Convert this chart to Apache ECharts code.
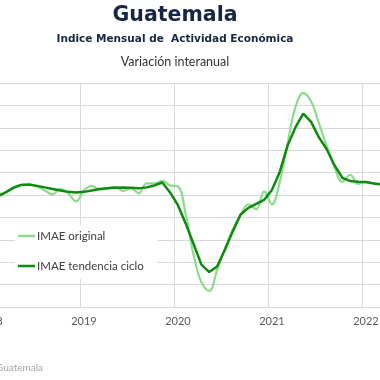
<!DOCTYPE html>
<html>
<head>
<meta charset="utf-8">
<script src="https://cdn.jsdelivr.net/npm/echarts@6/dist/echarts.min.js"></script>
<style>
html,body{margin:0;padding:0;overflow:hidden;background:#fff;width:380px;height:380px;}
#chart{position:absolute;left:-60px;top:0;width:480px;height:380px;}
</style>
</head>
<body>
<div id="chart"></div>
<script>
// Months Jan 2018 .. Mar 2022
var months = [];
(function(){ for (var y = 2018; y <= 2022; y++) for (var m = 1; m <= 12; m++) { if (months.length < 51) months.push(y + '-' + (m < 10 ? '0' + m : m)); } })();

var imaeOriginal = [
  2.0, 2.46, 2.79, 3.35, 3.63, 3.63, 3.46, 3.01, 2.57, 3.18, 2.68, 1.79,
  3.01, 3.52, 3.12, 3.24, 3.40, 2.96, 3.24, 2.68, 3.79, 3.79, 4.07, 3.57,
  3.46, 0.33, -4.2, -7.25, -8.2, -5.87, -3.5, -1.34, 0.22, 1.45, 0.89, 2.9,
  1.45, 3.97, 8.26, 12.3, 13.9, 12.95, 10.5, 7.95, 5.58, 3.96, 4.74, 3.74,
  3.94, 3.79, 3.68
];
var imaeTendencia = [
  2.1, 2.34, 2.79, 3.29, 3.63, 3.68, 3.52, 3.35, 3.18, 3.01, 2.85, 2.79,
  2.85, 3.01, 3.18, 3.26, 3.31, 3.35, 3.31, 3.24, 3.35, 3.57, 3.9, 2.79,
  1.36, -0.70, -2.97, -5.27, -6.10, -5.47, -3.62, -1.56, 0.33, 1.06, 1.51, 1.95,
  3.06, 5.08, 8.01, 10.04, 11.58, 10.66, 8.93, 7.6, 5.8, 4.41, 4.05, 3.98,
  3.94, 3.79, 3.68
];
var seriesNames = ['IMAE original', 'IMAE tendencia ciclo'];
var titleText = 'Guatemala';
var subtitleText = 'Indice Mensual de  Actividad Económica';
var subtitle2Text = 'Variación interanual';
var sourceText = 'Fuente: Banco de Guatemala';

var FONT = 'Lato, "Open Sans", sans-serif';
var TFONT = '"DejaVu Sans", sans-serif';
var gridColors = ['#d9d9d9','#d9d9d9','#d9d9d9','#d9d9d9','#a6a6a6','#d9d9d9','#d9d9d9','#d9d9d9','#d9d9d9','#d9d9d9','#d9d9d9'];

var chart = echarts.init(document.getElementById('chart'));
chart.setOption({
  animation: false,
  backgroundColor: '#fff',
  textStyle: { fontFamily: FONT },
  graphic: [
    { type: 'text', x: 235, y: 15.5, style: { text: titleText, font: 'bold 20.5px ' + TFONT, fill: '#172644', textAlign: 'center', textVerticalAlign: 'middle' } },
    { type: 'text', x: 235, y: 39.5, style: { text: subtitleText, font: 'bold 10.5px ' + TFONT, fill: '#172644', textAlign: 'center', textVerticalAlign: 'middle' } },
    { type: 'text', x: 235, y: 61.5, style: { text: subtitle2Text, font: '12.5px ' + FONT, fill: '#333', textAlign: 'center', textVerticalAlign: 'middle' } },
    { type: 'text', x: 103, y: 368, style: { text: sourceText, font: '10px ' + FONT, fill: '#a6a6a6', textAlign: 'right', textVerticalAlign: 'middle' } }
  ],
  grid: { left: 46, top: 83, width: 399.5, bottom: 73, containLabel: false },
  legend: {
    data: seriesNames,
    orient: 'vertical',
    left: 75,
    top: 225,
    itemGap: 16,
    itemWidth: 17,
    itemHeight: 2.5,
    icon: 'rect',
    backgroundColor: '#fff',
    padding: [4, 14, 6, 3],
    textStyle: { color: '#404040', fontSize: 11.5, fontFamily: FONT, padding: [0,0,0,-3], lineHeight: 14 }
  },
  xAxis: {
    type: 'category',
    data: months,
    boundaryGap: true,
    axisLine: { show: true, lineStyle: { color: '#d9d9d9' } },
    axisTick: { show: false },
    axisLabel: {
      interval: function (i) { return i % 12 === 0; },
      formatter: function (v) { return v.slice(0, 4); },
      color: '#595959', fontSize: 11, margin: 9
    },
    splitLine: {
      show: true,
      interval: function (i) { return i % 12 === 0; },
      lineStyle: { color: '#d9d9d9', width: 1 }
    }
  },
  yAxis: {
    type: 'value',
    min: -10, max: 15, interval: 2.5,
    axisLine: { show: false },
    axisTick: { show: false },
    axisLabel: { color: '#595959', fontSize: 11 },
    splitLine: { lineStyle: { color: gridColors, width: 1 } }
  },
  series: [
    { name: seriesNames[0], type: 'line', data: imaeOriginal, smooth: 0.4, symbol: 'none',
      lineStyle: { color: '#8edb8e', width: 2.2 }, itemStyle: { color: '#8edb8e' } },
    { name: seriesNames[1], type: 'line', data: imaeTendencia, smooth: false, symbol: 'none',
      lineStyle: { color: '#0e8a0e', width: 2.5 }, itemStyle: { color: '#0e8a0e' } }
  ]
});
</script>
</body>
</html>
